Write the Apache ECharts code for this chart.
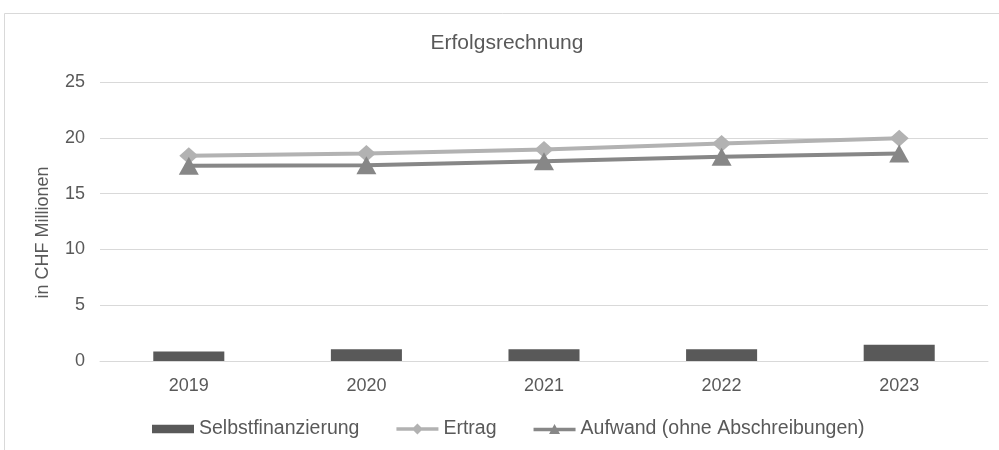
<!DOCTYPE html>
<html>
<head>
<meta charset="utf-8">
<script src="https://cdn.jsdelivr.net/npm/echarts@6/dist/echarts.min.js"></script>
<style>
  html, body { margin: 0; padding: 0; background: #ffffff; }
  #chart { width: 999px; height: 450px; }
</style>
</head>
<body>
<div id="chart"></div>
<script>
// Jahre und Werte (in CHF Millionen)
const years = ['2019', '2020', '2021', '2022', '2023'];
const selbstfinanzierung = [0.85, 1.05, 1.05, 1.05, 1.45];
const ertrag = [18.4, 18.6, 18.95, 19.5, 19.95];
const aufwand = [17.5, 17.55, 17.9, 18.3, 18.6];
const yTicks = { min: 0, max: 25, interval: 5 };

const textColor = '#595959';
const gridColor = '#d9d9d9';
const font = 'Liberation Sans, Arial, sans-serif';

// Legendensymbole: Balken, Linie mit Raute, Linie mit Dreieck
const iconBar = 'path://M0,3H40V11H0Z';
const iconDiamond = 'path://M0,5H46V9H0Z M23,1L29,7L23,13L17,7Z';
const iconTriangle = 'path://M0,5H46V9H0Z M23,1L29,12H17Z';

const chart = echarts.init(document.getElementById('chart'), null, { renderer: 'canvas' });

chart.setOption({
  animation: false,
  backgroundColor: '#ffffff',
  textStyle: { fontFamily: font, color: textColor },
  graphic: [{
    type: 'rect',
    silent: true,
    z: -1,
    shape: { x: 4.5, y: 13.5, width: 1100, height: 500 },
    style: { fill: 'none', stroke: gridColor, lineWidth: 1 }
  }],
  title: {
    text: 'Erfolgsrechnung',
    left: 502,
    top: 28,
    textAlign: 'center',
    textStyle: { fontFamily: font, fontSize: 21, fontWeight: 'normal', color: textColor }
  },
  grid: { left: 100, right: 11, top: 82, bottom: 89, containLabel: false },
  legend: {
    top: 414,
    left: 147,
    itemWidth: 42,
    itemHeight: 13,
    itemGap: 37,
    textStyle: { fontFamily: font, fontSize: 19.5, color: textColor },
    data: [
      { name: 'Selbstfinanzierung', icon: iconBar },
      { name: 'Ertrag', icon: iconDiamond },
      { name: 'Aufwand (ohne Abschreibungen)', icon: iconTriangle }
    ]
  },
  xAxis: {
    type: 'category',
    data: years,
    axisLine: { show: true, lineStyle: { color: gridColor, width: 1 } },
    axisTick: { show: false },
    axisLabel: { color: textColor, fontSize: 18, fontFamily: font, margin: 16 }
  },
  yAxis: {
    type: 'value',
    min: yTicks.min,
    max: yTicks.max,
    interval: yTicks.interval,
    name: 'in CHF Millionen',
    nameLocation: 'middle',
    nameGap: 48,
    nameRotate: 90,
    nameTextStyle: { color: textColor, fontSize: 18, fontFamily: font, padding: [0, 22, 0, 0] },
    axisLine: { show: false },
    axisTick: { show: false },
    axisLabel: { color: textColor, fontSize: 18, fontFamily: font, margin: 15 },
    splitLine: { lineStyle: { color: gridColor, width: 1 } }
  },
  series: [
    {
      name: 'Selbstfinanzierung',
      type: 'bar',
      data: selbstfinanzierung,
      barWidth: '40%',
      itemStyle: { color: '#595959' }
    },
    {
      name: 'Ertrag',
      type: 'line',
      data: ertrag,
      symbol: 'diamond',
      symbolSize: [19, 17],
      lineStyle: { color: '#b2b2b2', width: 4 },
      itemStyle: { color: '#b2b2b2' }
    },
    {
      name: 'Aufwand (ohne Abschreibungen)',
      type: 'line',
      data: aufwand,
      symbol: 'triangle',
      symbolSize: [20, 18],
      lineStyle: { color: '#878787', width: 4 },
      itemStyle: { color: '#878787' }
    }
  ]
});
</script>
</body>
</html>
